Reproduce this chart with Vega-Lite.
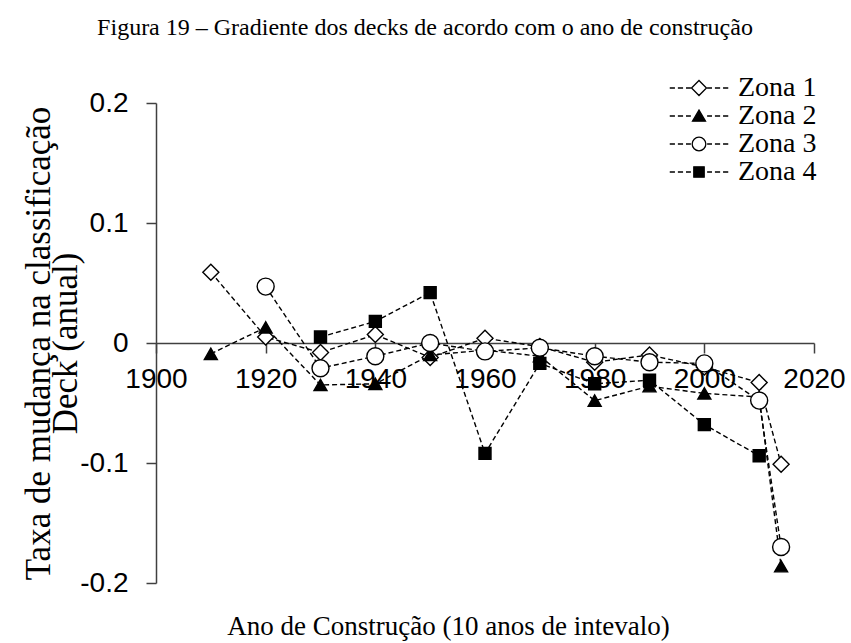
{
  "$schema": "https://vega.github.io/schema/vega-lite/v6.json",
  "width": 658,
  "height": 480,
  "autosize": {"type": "none"},
  "padding": {"left": 156, "top": 103, "right": 37, "bottom": 60},
  "background": "white",
  "config": {"view": {"stroke": null}},
  "title": {
    "text": "Figura 19 – Gradiente dos decks de acordo com o ano de construção",
    "font": "Liberation Serif",
    "fontSize": 24,
    "fontWeight": "normal",
    "color": "black",
    "anchor": "middle",
    "frame": "group",
    "dx": -60,
    "offset": 15,
    "baseline": "alphabetic"
  },
  "data": {
    "values": [
      {"ano": 1910, "taxa": 0.059, "zona": "Zona 1"},
      {"ano": 1920, "taxa": 0.005, "zona": "Zona 1"},
      {"ano": 1930, "taxa": -0.008, "zona": "Zona 1"},
      {"ano": 1940, "taxa": 0.007, "zona": "Zona 1"},
      {"ano": 1950, "taxa": -0.012, "zona": "Zona 1"},
      {"ano": 1960, "taxa": 0.004, "zona": "Zona 1"},
      {"ano": 1970, "taxa": -0.003, "zona": "Zona 1"},
      {"ano": 1980, "taxa": -0.016, "zona": "Zona 1"},
      {"ano": 1990, "taxa": -0.010, "zona": "Zona 1"},
      {"ano": 2000, "taxa": -0.020, "zona": "Zona 1"},
      {"ano": 2010, "taxa": -0.033, "zona": "Zona 1"},
      {"ano": 2014, "taxa": -0.101, "zona": "Zona 1"},
      {"ano": 1910, "taxa": -0.009, "zona": "Zona 2"},
      {"ano": 1920, "taxa": 0.013, "zona": "Zona 2"},
      {"ano": 1930, "taxa": -0.035, "zona": "Zona 2"},
      {"ano": 1940, "taxa": -0.034, "zona": "Zona 2"},
      {"ano": 1950, "taxa": -0.010, "zona": "Zona 2"},
      {"ano": 1960, "taxa": -0.006, "zona": "Zona 2"},
      {"ano": 1970, "taxa": -0.011, "zona": "Zona 2"},
      {"ano": 1980, "taxa": -0.048, "zona": "Zona 2"},
      {"ano": 1990, "taxa": -0.036, "zona": "Zona 2"},
      {"ano": 2000, "taxa": -0.042, "zona": "Zona 2"},
      {"ano": 2010, "taxa": -0.045, "zona": "Zona 2"},
      {"ano": 2014, "taxa": -0.186, "zona": "Zona 2"},
      {"ano": 1920, "taxa": 0.047, "zona": "Zona 3"},
      {"ano": 1930, "taxa": -0.021, "zona": "Zona 3"},
      {"ano": 1940, "taxa": -0.011, "zona": "Zona 3"},
      {"ano": 1950, "taxa": 0.0, "zona": "Zona 3"},
      {"ano": 1960, "taxa": -0.007, "zona": "Zona 3"},
      {"ano": 1970, "taxa": -0.004, "zona": "Zona 3"},
      {"ano": 1980, "taxa": -0.011, "zona": "Zona 3"},
      {"ano": 1990, "taxa": -0.016, "zona": "Zona 3"},
      {"ano": 2000, "taxa": -0.017, "zona": "Zona 3"},
      {"ano": 2010, "taxa": -0.048, "zona": "Zona 3"},
      {"ano": 2014, "taxa": -0.170, "zona": "Zona 3"},
      {"ano": 1930, "taxa": 0.005, "zona": "Zona 4"},
      {"ano": 1940, "taxa": 0.018, "zona": "Zona 4"},
      {"ano": 1950, "taxa": 0.042, "zona": "Zona 4"},
      {"ano": 1960, "taxa": -0.092, "zona": "Zona 4"},
      {"ano": 1970, "taxa": -0.017, "zona": "Zona 4"},
      {"ano": 1980, "taxa": -0.034, "zona": "Zona 4"},
      {"ano": 1990, "taxa": -0.031, "zona": "Zona 4"},
      {"ano": 2000, "taxa": -0.068, "zona": "Zona 4"},
      {"ano": 2010, "taxa": -0.094, "zona": "Zona 4"}
    ]
  },
  "encoding": {
    "x": {
      "field": "ano",
      "type": "quantitative",
      "scale": {"domain": [1900, 2020], "nice": false, "zero": false},
      "axis": {
        "title": "Ano de Construção (10 anos de intevalo)",
        "titleFont": "Liberation Serif",
        "titleFontSize": 27,
        "titleFontWeight": "normal",
        "titleColor": "black",
        "titleX": 292,
        "titleY": 291,
        "titleAlign": "center",
        "titleBaseline": "alphabetic",
        "offset": -240,
        "values": [1900, 1920, 1940, 1960, 1980, 2000, 2020],
        "format": "d",
        "grid": false,
        "tickSize": 10,
        "tickColor": "#404040",
        "tickWidth": 1.5,
        "domainColor": "#404040",
        "domainWidth": 1.5,
        "labelFont": "Liberation Sans",
        "labelFontSize": 28,
        "labelColor": "black",
        "labelPadding": 12,
        "labelOverlap": false,
        "labelFlush": false
      }
    },
    "y": {
      "field": "taxa",
      "type": "quantitative",
      "scale": {"domain": [-0.2, 0.2], "nice": false},
      "axis": {
        "title": ["Taxa de mudança na classificação", "Deck (anual)"],
        "titleFont": "Liberation Serif",
        "titleFontSize": 35,
        "titleLineHeight": 27,
        "titleFontWeight": "normal",
        "titleColor": "black",
        "titleAngle": -90,
        "titleX": -107,
        "titleY": 240,
        "titleAlign": "center",
        "titleBaseline": "alphabetic",
        "values": [-0.2, -0.1, 0, 0.1, 0.2],
        "labelExpr": "replace(format(datum.value, '~g'), '\u2212', '-')",
        "grid": false,
        "tickSize": 10,
        "tickColor": "#404040",
        "tickWidth": 1.5,
        "domainColor": "#404040",
        "domainWidth": 1.5,
        "labelFont": "Liberation Sans",
        "labelFontSize": 28,
        "labelColor": "black",
        "labelPadding": 18,
        "labelOverlap": false,
        "labelFlush": false
      }
    }
  },
  "layer": [
    {
      "mark": {"type": "line", "strokeDash": [5, 3], "strokeWidth": 1.4, "color": "black"},
      "encoding": {"detail": {"field": "zona"}}
    },
    {
      "mark": {"type": "point", "filled": true, "stroke": "black", "strokeWidth": 1.4, "opacity": 1},
      "encoding": {
        "shape": {
          "condition": [
            {"test": "datum.zona === 'Zona 1'", "value": "diamond"},
            {"test": "datum.zona === 'Zona 2'", "value": "triangle-up"},
            {"test": "datum.zona === 'Zona 3'", "value": "circle"}
          ],
          "value": "square"
        },
        "fill": {
          "condition": {"test": "datum.zona === 'Zona 2' || datum.zona === 'Zona 4'", "value": "black"},
          "value": "white"
        },
        "size": {
          "condition": [
            {"test": "datum.zona === 'Zona 1'", "value": 256},
            {"test": "datum.zona === 'Zona 2'", "value": 169},
            {"test": "datum.zona === 'Zona 3'", "value": 289}
          ],
          "value": 144
        }
      }
    },
    {
      "transform": [{"filter": "false"}],
      "mark": {"type": "point", "filled": true, "strokeWidth": 1.3},
      "encoding": {
        "shape": {
          "field": "zona",
          "type": "nominal",
          "scale": {
            "domain": ["Zona 1", "Zona 2", "Zona 3", "Zona 4"],
            "range": [
              "M-4.5,0H-3.7M-3.25,0H-2.45M-2,0H-1.25M1.25,0H2M2.45,0H3.25M3.7,0H4.5M-1.15,0L0,-1.15L1.15,0L0,1.15Z",
              "M-4.5,0H-3.7M-3.25,0H-2.45M-2,0H-1.25M1.25,0H2M2.45,0H3.25M3.7,0H4.5M0,-0.9L-1,0.8L1,0.8Z",
              "M-4.5,0H-3.7M-3.25,0H-2.45M-2,0H-1.25M1.25,0H2M2.45,0H3.25M3.7,0H4.5M1.05,0A1.05,1.05,0,1,1,-1.05,0A1.05,1.05,0,1,1,1.05,0Z",
              "M-4.5,0H-3.7M-3.25,0H-2.45M-2,0H-1.25M1.25,0H2M2.45,0H3.25M3.7,0H4.5M-0.8,-0.8H0.8V0.8H-0.8Z"
            ]
          },
          "legend": {
            "orient": "none",
            "legendX": 529,
            "legendY": -29,
            "title": null,
            "labelFont": "Liberation Serif",
            "labelFontSize": 28,
            "labelColor": "black",
            "labelOffset": 25,
            "rowPadding": 0,
            "symbolSize": 169,
            "symbolStrokeWidth": 1.3,
            "symbolOpacity": 1
          }
        },
        "fill": {
          "field": "zona",
          "type": "nominal",
          "scale": {"domain": ["Zona 1", "Zona 2", "Zona 3", "Zona 4"], "range": ["white", "black", "white", "black"]},
          "legend": {
            "orient": "none",
            "legendX": 529,
            "legendY": -29,
            "title": null,
            "labelFont": "Liberation Serif",
            "labelFontSize": 28,
            "labelColor": "black",
            "labelOffset": 25,
            "rowPadding": 0,
            "symbolSize": 169,
            "symbolStrokeWidth": 1.3,
            "symbolOpacity": 1
          }
        },
        "stroke": {
          "field": "zona",
          "type": "nominal",
          "scale": {"domain": ["Zona 1", "Zona 2", "Zona 3", "Zona 4"], "range": ["black", "black", "black", "black"]},
          "legend": {
            "orient": "none",
            "legendX": 529,
            "legendY": -29,
            "title": null,
            "labelFont": "Liberation Serif",
            "labelFontSize": 28,
            "labelColor": "black",
            "labelOffset": 25,
            "rowPadding": 0,
            "symbolSize": 169,
            "symbolStrokeWidth": 1.3,
            "symbolOpacity": 1
          }
        }
      }
    }
  ]
}
